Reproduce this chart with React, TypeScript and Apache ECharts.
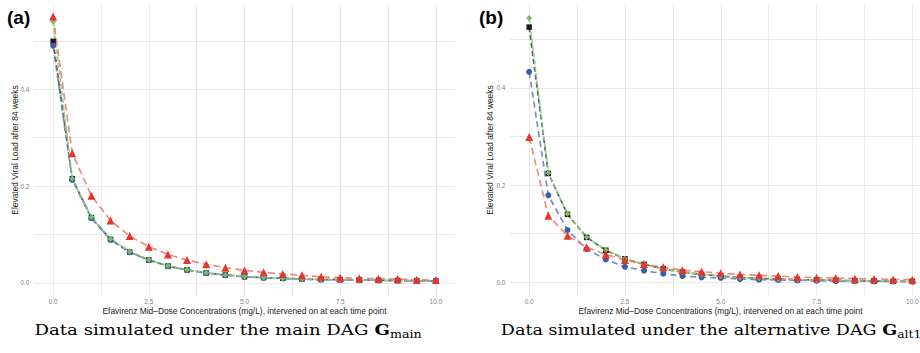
import React, { useEffect, useRef } from "react";
import * as echarts from "echarts";

const xValues = [0, 0.5, 1, 1.5, 2, 2.5, 3, 3.5, 4, 4.5, 5, 5.5, 6, 6.5, 7, 7.5, 8, 8.5, 9, 9.5, 10];

// Panel (a): data simulated under the main DAG
const redA = [0.55, 0.268, 0.18, 0.129, 0.097, 0.075, 0.059, 0.0475, 0.0386, 0.0317, 0.026, 0.022, 0.0186, 0.016, 0.013, 0.011, 0.0097, 0.009, 0.008, 0.0066, 0.006];
const blackA = [0.499, 0.215, 0.135, 0.09, 0.064, 0.0475, 0.035, 0.027, 0.0207, 0.0165, 0.013, 0.011, 0.0097, 0.008, 0.0073, 0.0066, 0.006, 0.0055, 0.005, 0.0045, 0.004];
const blueA = [0.49, 0.213, 0.134, 0.089, 0.0635, 0.047, 0.0345, 0.0267, 0.0205, 0.0163, 0.0128, 0.0108, 0.0095, 0.0078, 0.0071, 0.0064, 0.0058, 0.0053, 0.0048, 0.0043, 0.0038];
const greenA = [0.54, 0.216, 0.136, 0.091, 0.065, 0.048, 0.0355, 0.0273, 0.021, 0.0167, 0.0132, 0.0112, 0.0098, 0.0081, 0.0074, 0.0067, 0.0061, 0.0056, 0.0051, 0.0046, 0.0041];

// Panel (b): data simulated under the alternative DAG
const redB = [0.299, 0.137, 0.096, 0.072, 0.0575, 0.046, 0.037, 0.031, 0.025, 0.022, 0.0185, 0.0164, 0.0144, 0.013, 0.011, 0.0096, 0.009, 0.0075, 0.0068, 0.006, 0.0055];
const blackB = [0.525, 0.224, 0.14, 0.0925, 0.066, 0.0486, 0.037, 0.028, 0.021, 0.0164, 0.013, 0.01, 0.0082, 0.0068, 0.0055, 0.005, 0.0041, 0.0034, 0.0027, 0.002, 0.002];
const blueB = [0.433, 0.179, 0.1075, 0.0685, 0.047, 0.032, 0.024, 0.0177, 0.013, 0.0103, 0.009, 0.0068, 0.0055, 0.005, 0.0041, 0.0034, 0.0027, 0.0027, 0.002, 0.002, 0.0014];
const greenB = [0.544, 0.225, 0.141, 0.093, 0.0665, 0.049, 0.0372, 0.0282, 0.0212, 0.0166, 0.0132, 0.0102, 0.0084, 0.007, 0.0057, 0.0051, 0.0042, 0.0035, 0.0028, 0.0021, 0.002];

const xTickValues = [0, 1.25, 2.5, 3.75, 5, 6.25, 7.5, 8.75, 10];
const xLabelValues = [0, 2.5, 5, 7.5, 10];
const yTickValues = [0, 0.1, 0.2, 0.3, 0.4, 0.5];
const yLabelValues = [0, 0.2, 0.4];

const panelLabels = ["(a)", "(b)"];
const xTitle = "Efavirenz Mid\u2013Dose Concentrations (mg/L), intervened on at each time point";
const yTitle = "Elevated Viral Load after 84 weeks";
const captions = [
  "{r|Data simulated under the main DAG }{b|G}{s|main}",
  "{r|Data simulated under the alternative DAG }{b|G}{s|alt1}",
];

const SANS = "Liberation Sans, Arial, sans-serif";
const SERIF = "DejaVu Serif, serif";

const styles = {
  black: { line: "#3a3a3a", mark: "#1a1a1a", symbol: "rect", size: 5.5, dash: [5, 3] },
  blue: { line: "#5f79c2", mark: "#3b5bab", symbol: "circle", size: 6, dash: [6, 4] },
  green: { line: "#8cca7c", mark: "#72bd62", symbol: "diamond", size: 6, dash: [5, 2] },
  red: { line: "#f27462", mark: "#e8352b", symbol: "triangle", size: 8, dash: [7, 4] },
};

function makeSeries(name: string, vals: number[], key: keyof typeof styles, idx: number) {
  const s = styles[key];
  return {
    name,
    type: "line",
    xAxisIndex: idx,
    yAxisIndex: idx,
    data: xValues.map((x, i) => [x, vals[i]]),
    symbol: s.symbol,
    symbolSize: s.size,
    showSymbol: true,
    lineStyle: { color: s.line, width: 1.7, type: s.dash, opacity: 0.85 },
    itemStyle: { color: s.mark, borderWidth: 0 },
    emphasis: { disabled: true },
  };
}

function xAxis(gridIndex: number) {
  return {
    type: "value",
    gridIndex,
    min: -0.5,
    max: 10.5,
    axisLine: { show: false },
    axisTick: { show: false, customValues: xTickValues },
    axisLabel: {
      customValues: xLabelValues,
      formatter: (v: number) => v.toFixed(1),
      color: "#7f7f7f",
      fontSize: 6.5,
      fontFamily: SANS,
      margin: 3,
    },
    splitLine: { show: true, lineStyle: { color: "#e6e6e6", width: 0.9 } },
  };
}

function yAxis(gridIndex: number, min: number, max: number) {
  return {
    type: "value",
    gridIndex,
    min,
    max,
    axisLine: { show: false },
    axisTick: { show: false, customValues: yTickValues },
    axisLabel: {
      customValues: yLabelValues,
      formatter: (v: number) => v.toFixed(1),
      color: "#7f7f7f",
      fontSize: 6.5,
      fontFamily: SANS,
      margin: 4.5,
    },
    splitLine: { show: true, lineStyle: { color: "#e6e6e6", width: 0.9 } },
  };
}

const captionRich = {
  r: { fontSize: 15, fontFamily: SERIF, fill: "#000", lineHeight: 20 },
  b: { fontSize: 15, fontFamily: SERIF, fontWeight: "bold", fill: "#000", lineHeight: 20 },
  s: { fontSize: 10.5, fontFamily: SERIF, fill: "#000", lineHeight: 12, verticalAlign: "bottom" },
};

export default function App() {
  const ref = useRef<HTMLDivElement>(null);
  useEffect(() => {
    if (!ref.current) return;
    const chart = echarts.init(ref.current, undefined, { renderer: "svg" });
    chart.setOption({
      animation: false,
      backgroundColor: "#ffffff",
      grid: [
        { left: 34, top: 5, width: 421, height: 290 },
        { left: 510, top: 5, width: 421.5, height: 290 },
      ],
      xAxis: [xAxis(0), xAxis(1)],
      yAxis: [yAxis(0, -0.0248, 0.574), yAxis(1, -0.026, 0.5705)],
      series: [
        makeSeries("black", blackA, "black", 0),
        makeSeries("blue", blueA, "blue", 0),
        makeSeries("green", greenA, "green", 0),
        makeSeries("red", redA, "red", 0),
        makeSeries("black", blackB, "black", 1),
        makeSeries("blue", blueB, "blue", 1),
        makeSeries("green", greenB, "green", 1),
        makeSeries("red", redB, "red", 1),
      ],
      graphic: [
        { type: "text", x: 7, y: 17, style: { text: panelLabels[0], fontSize: 19, fontWeight: "bold", fontFamily: SANS, fill: "#000", verticalAlign: "middle" } },
        { type: "text", x: 479, y: 17, style: { text: panelLabels[1], fontSize: 19, fontWeight: "bold", fontFamily: SANS, fill: "#000", verticalAlign: "middle" } },
        { type: "text", x: 244.5, y: 310.7, style: { text: xTitle, fontSize: 8.4, fontFamily: SANS, fill: "#1a1a1a", align: "center", verticalAlign: "middle" } },
        { type: "text", x: 720.5, y: 310.7, style: { text: xTitle, fontSize: 8.4, fontFamily: SANS, fill: "#1a1a1a", align: "center", verticalAlign: "middle" } },
        { type: "text", x: 14.5, y: 150, rotation: Math.PI / 2, style: { text: yTitle, fontSize: 8.4, fontFamily: SANS, fill: "#1a1a1a", align: "center", verticalAlign: "middle" } },
        { type: "text", x: 490, y: 150, rotation: Math.PI / 2, style: { text: yTitle, fontSize: 8.4, fontFamily: SANS, fill: "#1a1a1a", align: "center", verticalAlign: "middle" } },
        { type: "text", x: 228, y: 330, scaleX: 1.21, style: { text: captions[0], align: "center", verticalAlign: "middle", rich: captionRich } },
        { type: "text", x: 711, y: 330, scaleX: 1.17, style: { text: captions[1], align: "center", verticalAlign: "middle", rich: captionRich } },
      ],
    });
    return () => chart.dispose();
  }, []);
  return (
    <div style={{ position: "absolute", left: 0, top: 0, width: 920, height: 353, overflow: "hidden", background: "#fff" }}>
      <div ref={ref} style={{ width: 932, height: 353 }} />
    </div>
  );
}
